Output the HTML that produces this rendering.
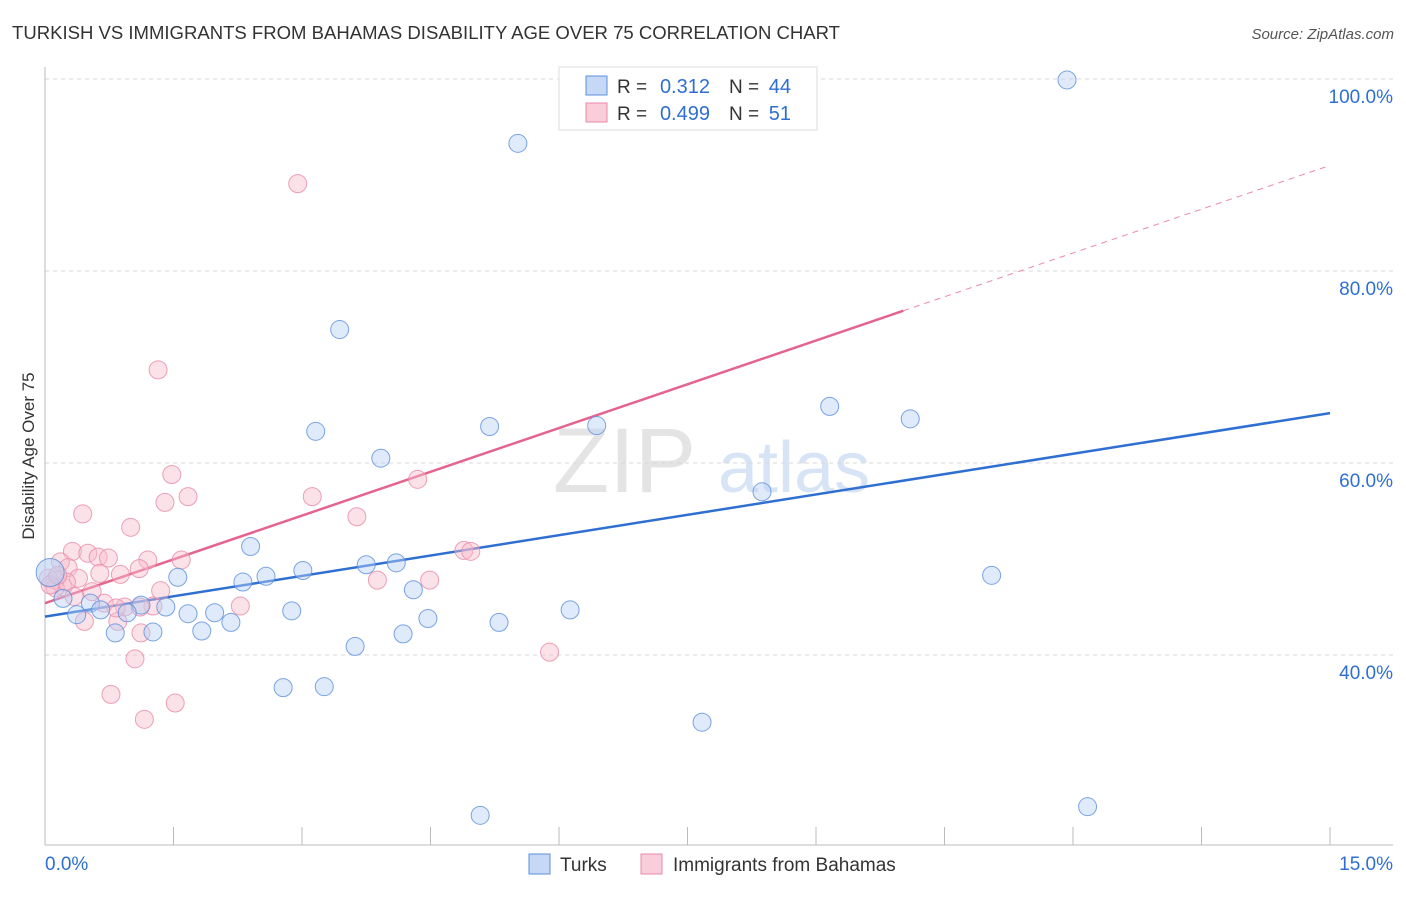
<!DOCTYPE html>
<html><head><meta charset="utf-8">
<style>
body{margin:0;background:#fff;font-family:"Liberation Sans",sans-serif;}
svg text{font-family:"Liberation Sans",sans-serif;}
</style></head>
<body>
<svg id="chart" width="1406" height="892" viewBox="0 0 1406 892" xmlns="http://www.w3.org/2000/svg">
<text x="12" y="39" font-size="18.5" fill="#333" textLength="828" lengthAdjust="spacingAndGlyphs">TURKISH VS IMMIGRANTS FROM BAHAMAS DISABILITY AGE OVER 75 CORRELATION CHART</text>
<text x="1394" y="39" font-size="15" fill="#555" font-style="italic" text-anchor="end">Source: ZipAtlas.com</text>
<g>
<text x="553" y="492" font-size="92" fill="#e4e4e4" font-family="Liberation Serif, serif">ZIP</text>
<text x="718" y="492" font-size="72" fill="#d7e4f5">atlas</text>
</g>
<g id="grid"></g>
<g id="axes"></g>
<g id="lines"></g>
<g id="pts"></g>
<text transform="translate(34,456) rotate(-90)" font-size="17" fill="#333" text-anchor="middle">Disability Age Over 75</text>
<g>
<rect x="559" y="67" width="258" height="63" fill="#fff" stroke="#ddd"/>
<rect x="586" y="76" width="21" height="19" fill="#c5d9f6" stroke="#5b8fdc"/>
<rect x="586" y="103" width="21" height="19" fill="#f9cdd9" stroke="#e98aa8"/>
<text x="617" y="93" font-size="19" fill="#333">R =</text>
<text x="710" y="93" font-size="20" fill="#2f6fd1" text-anchor="end">0.312</text>
<text x="729" y="93" font-size="19" fill="#333">N =</text>
<text x="791" y="93" font-size="20" fill="#2f6fd1" text-anchor="end">44</text>
<text x="617" y="120" font-size="19" fill="#333">R =</text>
<text x="710" y="120" font-size="20" fill="#2f6fd1" text-anchor="end">0.499</text>
<text x="729" y="120" font-size="19" fill="#333">N =</text>
<text x="791" y="120" font-size="20" fill="#2f6fd1" text-anchor="end">51</text>
</g>
<g>
<rect x="529" y="854" width="21" height="20" fill="#c5d9f6" stroke="#5b8fdc"/>
<text x="560" y="871" font-size="19" fill="#333">Turks</text>
<rect x="641" y="854" width="21" height="20" fill="#f9cdd9" stroke="#e98aa8"/>
<text x="673" y="871" font-size="19" fill="#333">Immigrants from Bahamas</text>
</g>
</svg>
<script>
const yTicks=[40,60,80,100];
const yTickLabels=["40.0%","60.0%","80.0%","100.0%"];
const xTickCount=10;
const xEndLabels=["0.0%","15.0%"];
const turksX=[11.93,5.52,3.44,3.16,5.19,6.44,3.92,9.16,10.10,8.37,2.40,1.55,2.31,2.58,3.01,3.75,4.10,4.30,2.88,1.98,1.67,1.41,1.12,0.96,0.53,0.37,0.82,1.26,1.83,2.17,4.18,4.47,5.30,6.13,3.62,2.78,3.26,7.67,11.05,12.17,5.08,0.21,0.06,0.65];
const turksY=[99.9,93.3,73.9,63.3,63.8,63.9,60.5,65.9,64.6,57.0,51.3,48.1,47.6,48.2,48.8,49.4,49.6,46.8,44.6,44.4,44.3,45.0,45.2,44.4,45.4,44.2,42.3,42.4,42.5,43.4,42.2,43.8,43.4,44.7,40.9,36.6,36.7,33.0,48.3,24.2,23.3,45.9,48.6,44.7];
const bahX=[8.85,2.95,1.32,1.48,1.40,1.67,3.12,4.35,0.44,3.64,1.00,0.32,0.50,0.62,0.74,1.20,1.59,0.18,0.27,0.12,0.04,0.39,0.64,0.88,1.10,4.89,4.97,0.21,0.55,0.69,0.93,1.26,2.28,0.85,0.46,1.12,1.35,3.88,4.49,5.89,1.05,0.77,1.16,1.52,0.12,0.25,0.06,0.15,0.83,1.11,0.34];
const bahY=[99.9,89.1,69.7,58.8,55.9,56.5,56.5,58.3,54.7,54.4,53.3,50.8,50.6,50.2,50.1,49.9,49.9,49.7,49.1,47.8,48.0,48.0,48.5,48.4,49.0,50.9,50.8,47.1,46.6,45.4,45.0,45.1,45.1,43.5,43.5,42.3,46.7,47.8,47.8,40.3,39.6,35.9,33.3,35.0,47.0,47.6,47.3,48.3,44.9,45.0,46.1];
const turksTrend=[44.0,65.2];
const bahTrend=[45.4,91.0];
const bahSolidEnd=10.02;

const NS="http://www.w3.org/2000/svg";
const X=v=>45+v*(1285/15);
const Y=v=>79+(100-v)*9.6;
function mk(tag,attrs,parent){const e=document.createElementNS(NS,tag);for(const k in attrs)e.setAttribute(k,attrs[k]);parent.appendChild(e);return e;}
const grid=document.getElementById('grid'),axes=document.getElementById('axes'),lines=document.getElementById('lines'),pts=document.getElementById('pts');
yTicks.forEach((t,i)=>{
 const l=mk('line',{x1:45,x2:1393,y1:Y(t),y2:Y(t),stroke:'#d8d8d8','stroke-dasharray':'4,4'},grid);
 
 
 const tx=mk('text',{x:1393,y:Y(t)+24,'font-size':19,fill:'#2f6fd1','text-anchor':'end'},grid);
 tx.textContent=yTickLabels[i];
 
 
});
mk('line',{x1:45,x2:45,y1:67,y2:845,stroke:'#bbb'},axes);
mk('line',{x1:45,x2:1393,y1:845,y2:845,stroke:'#bbb'},axes);
for(let i=0;i<=xTickCount;i++){
 const v=i*15/xTickCount;
 const t=mk('line',{x1:X(v),x2:X(v),y1:827,y2:845,stroke:'#bbb'},axes);
 
 
}
const xl0=mk('text',{x:45,y:870,'font-size':19,fill:'#2f6fd1'},axes);xl0.textContent=xEndLabels[0];


const xl1=mk('text',{x:1393,y:870,'font-size':19,fill:'#2f6fd1','text-anchor':'end'},axes);xl1.textContent=xEndLabels[1];



function draw(xs,ys,fill,stroke,name){
 xs.forEach((x,i)=>{
  const big=(name==='turk-point'&&i===42);
  const c=mk('circle',{cx:X(x),cy:Y(ys[i]),r:big?14:9,fill:fill,'fill-opacity':big?0.6:0.45,stroke:stroke,'stroke-opacity':0.8,'stroke-width':1},pts);
  
  
 });
}
draw(bahX,bahY,'#f7bccc','#e98aa8','bahamas-point');
draw(turksX,turksY,'#b9d1f3','#5b8fdc','turk-point');

const tl=mk('line',{x1:X(0),y1:Y(turksTrend[0]),x2:X(15),y2:Y(turksTrend[1]),stroke:'#2f6fd1','stroke-width':2.5},lines);


const bv=x=>bahTrend[0]+(bahTrend[1]-bahTrend[0])*x/15;
const bl=mk('line',{x1:X(0),y1:Y(bv(0)),x2:X(bahSolidEnd),y2:Y(bv(bahSolidEnd)),stroke:'#e4648e','stroke-width':2.5},lines);


const bd=mk('line',{x1:X(bahSolidEnd),y1:Y(bv(bahSolidEnd)),x2:X(15),y2:Y(bv(15)),stroke:'#e98aa8','stroke-width':1,'stroke-dasharray':'6,5'},lines);


</script>
</body></html>
